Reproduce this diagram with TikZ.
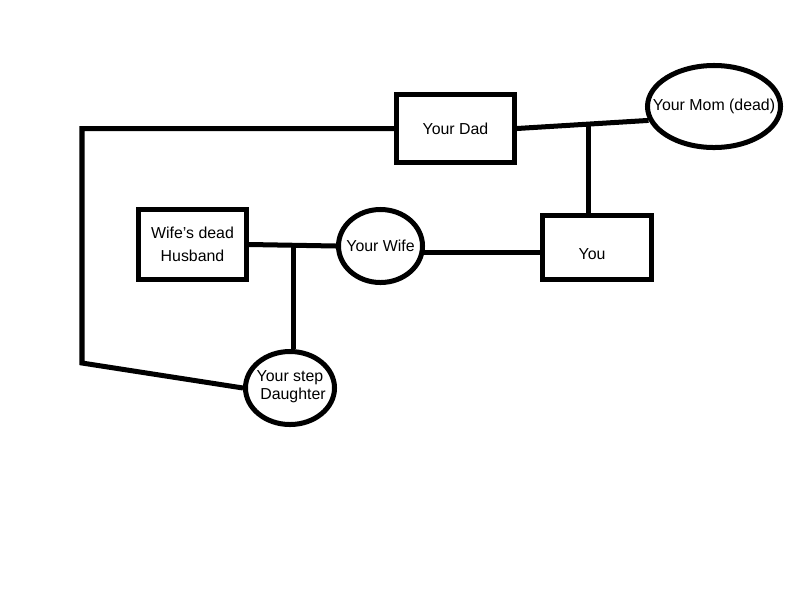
\documentclass[tikz,border=0pt]{standalone}
\usepackage{fontspec}
\setmainfont{Liberation Sans}
\usepackage{tikz}
\usetikzlibrary{shapes}

\begin{document}
\begin{tikzpicture}[x=0.025cm, y=-0.025cm]
				\tikzstyle{Person} 	= [draw, solid, fill=white, line width=3.56pt, inner sep=0pt, align=center, font=\fontsize{11.3}{16.4}\selectfont]
				\tikzstyle{Male}	= [rectangle]
				\tikzstyle{Female}	= [ellipse]
				\tikzstyle{Tie}		= [line width=3.56pt]

				\useasboundingbox (0,0) rectangle (800,600);

				\node (dad) at (455.5,128.5) [Person][Male][minimum width=2.95cm, minimum height=1.7cm] {Your Dad};
				\node (you) at (597,247.5) [Person][Male][minimum width=2.725cm, minimum height=1.6cm, text height=16.8pt, text depth=0pt] {\hspace*{-2.5mm}You};
				\node (husband) at (192.5,244.5) [Person][Male][minimum width=2.7cm, minimum height=1.75cm] {Wife's dead\\Husband};

				\node (mom) at (714,106.5) [Person][Female][minimum width=3.325cm, minimum height=2.05cm] {\makebox[0pt]{Your Mom (dead)}};
				\node (wife) at (380.5,246) [Person][Female][minimum width=2.1cm, minimum height=1.825cm] {\makebox[0pt]{Your Wife}};
				\node (daughter) at (290,388) [Person][Female][minimum width=2.225cm, minimum height=1.825cm, inner xsep=-4pt, text depth=4.6pt, font=\fontsize{11.3}{12.8}\selectfont] {Your step\\\hspace*{1.5mm}Daughter};

				\coordinate (dadmom) at (588,124);
				\coordinate (wifehus) at (293,246);
				\coordinate (topleft) at (82,128.5);
				\coordinate (botleft) at (82,363);

				\draw [-] (dad.east) to (mom.192) [Tie];
				\draw [-] (dadmom) to (dadmom |- you.north) [Tie];
				\draw [-] (wife.-8) to (wife.-8 -| you.west) [Tie];
				\draw [-] (husband.east) to (wife.west) [Tie];
				\draw [-] (wifehus) to (wifehus |- daughter.north) [Tie];
				\draw [-] (dad.west) -- (topleft) -- (botleft) -- (daughter.west) [Tie];
			\end{tikzpicture}
\end{document}
